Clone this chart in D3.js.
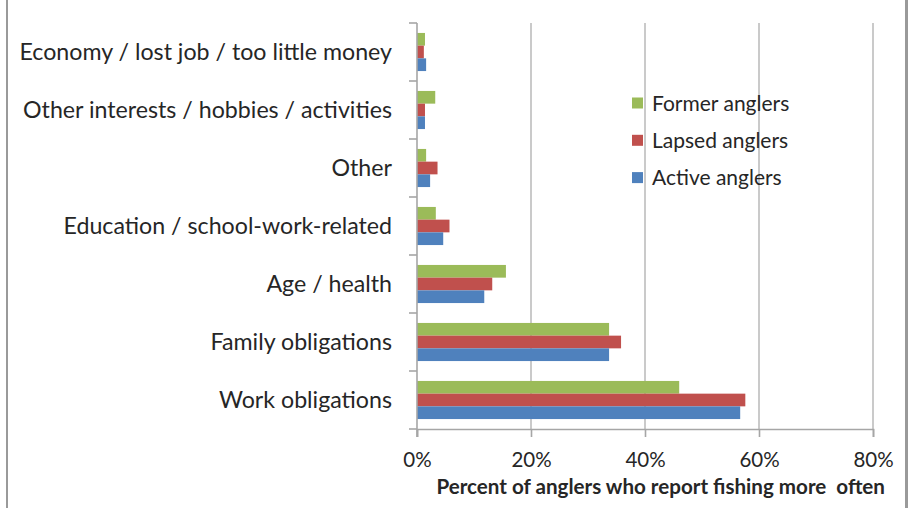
<!DOCTYPE html>
<html>
<head>
<meta charset="utf-8">
<script src="https://cdn.jsdelivr.net/npm/d3@7"></script>
<style>
  html, body { margin: 0; padding: 0; background: #fff; }
  svg { display: block; }
  text { font-family: Lato, "Open Sans", sans-serif; fill: #262626; white-space: pre; }
</style>
</head>
<body>
<svg id="chart" width="911" height="508"></svg>
<script>
// Reasons anglers give for not fishing more often, by angler group
const categories = [
  "Economy / lost job / too little money",
  "Other interests / hobbies / activities",
  "Other",
  "Education / school-work-related",
  "Age / health",
  "Family obligations",
  "Work obligations"
];
const seriesNames = ["Former anglers", "Lapsed anglers", "Active anglers"];
const formerAnglers = [1.4, 3.2, 1.6, 3.3, 15.6, 33.7, 46.0];
const lapsedAnglers = [1.2, 1.4, 3.6, 5.7, 13.2, 35.8, 57.6];
const activeAnglers = [1.6, 1.4, 2.3, 4.6, 11.8, 33.7, 56.7];
const xTicks = [0, 20, 40, 60, 80];
const xTitle = "Percent of anglers who report fishing more  often";

const seriesValues = [formerAnglers, lapsedAnglers, activeAnglers];
const colors = ["#9bbb59", "#c0504d", "#4f81bd"];

const svg = d3.select("#chart");
const plot = { left: 417, right: 873, top: 23, bottom: 429 };

// frame edges
svg.append("line").attr("x1", 7).attr("x2", 7).attr("y1", 0).attr("y2", 508)
  .attr("stroke", "#9a9a9a").attr("stroke-width", 2);
svg.append("line").attr("x1", 906.5).attr("x2", 906.5).attr("y1", 0).attr("y2", 508)
  .attr("stroke", "#9a9a9a").attr("stroke-width", 3);

const x = d3.scaleLinear().domain([0, 80]).range([plot.left, plot.right]);
const y = d3.scaleBand().domain(categories).range([plot.top, plot.bottom])
  .paddingInner(0.343).paddingOuter(0.1715);
const ySub = d3.scaleBand().domain(seriesNames).range([0, y.bandwidth()]);

// vertical gridlines
svg.append("g").selectAll("line").data(xTicks.filter(d => d > 0)).join("line")
  .attr("x1", d => x(d)).attr("x2", d => x(d))
  .attr("y1", plot.top).attr("y2", plot.bottom)
  .attr("stroke", "#bdbdbd").attr("stroke-width", 1.6);

// bars
const rows = categories.map((c, i) => ({ c, vals: seriesNames.map((s, j) => ({ s, v: seriesValues[j][i], col: colors[j] })) }));
const g = svg.append("g").selectAll("g").data(rows).join("g")
  .attr("transform", d => `translate(0,${y(d.c)})`);
g.selectAll("rect").data(d => d.vals).join("rect")
  .attr("x", x(0))
  .attr("y", d => ySub(d.s))
  .attr("width", d => x(d.v) - x(0))
  .attr("height", ySub.bandwidth())
  .attr("fill", d => d.col);

// x axis
const xAxis = d3.axisBottom(x).tickValues(xTicks).tickFormat(d => d + "%").tickSize(8).tickPadding(15);
const gx = svg.append("g").attr("transform", `translate(0,${plot.bottom})`).call(xAxis);
gx.select(".domain").attr("stroke", "#a6a6a6").attr("stroke-width", 1.6);
gx.selectAll(".tick line").attr("stroke", "#a6a6a6").attr("stroke-width", 1.6);
gx.selectAll(".tick text").attr("font-size", 20.5).attr("fill", "#262626")
  .style("font-family", "Lato, 'Open Sans', sans-serif");

// y axis with ticks at category boundaries
const gy = svg.append("g");
gy.append("line").attr("x1", plot.left).attr("x2", plot.left)
  .attr("y1", plot.top).attr("y2", plot.bottom + 8)
  .attr("stroke", "#a6a6a6").attr("stroke-width", 1.6);
const bounds = d3.range(categories.length + 1).map(i => plot.top + i * y.step());
gy.selectAll("line.tk").data(bounds).join("line").attr("class", "tk")
  .attr("x1", plot.left - 8).attr("x2", plot.left)
  .attr("y1", d => d).attr("y2", d => d)
  .attr("stroke", "#a6a6a6").attr("stroke-width", 1.6);
gy.selectAll("text").data(categories).join("text")
  .attr("x", 392).attr("y", d => y(d) + y.bandwidth() / 2 + 7.5)
  .attr("text-anchor", "end").attr("font-size", 23.2)
  .text(d => d);

// axis title
svg.append("text").attr("x", 885).attr("y", 494).attr("text-anchor", "end")
  .attr("font-size", 20.6).attr("font-weight", "bold").text(xTitle);

// legend
const lg = svg.append("g").selectAll("g").data(seriesNames).join("g")
  .attr("transform", (d, i) => `translate(632,${103 + i * 37.3})`);
lg.append("rect").attr("x", 0).attr("y", -5.5).attr("width", 11).attr("height", 11)
  .attr("fill", (d, i) => colors[i]);
lg.append("text").attr("x", 20).attr("y", 7.5).attr("font-size", 21).text(d => d);
</script>
</body>
</html>
